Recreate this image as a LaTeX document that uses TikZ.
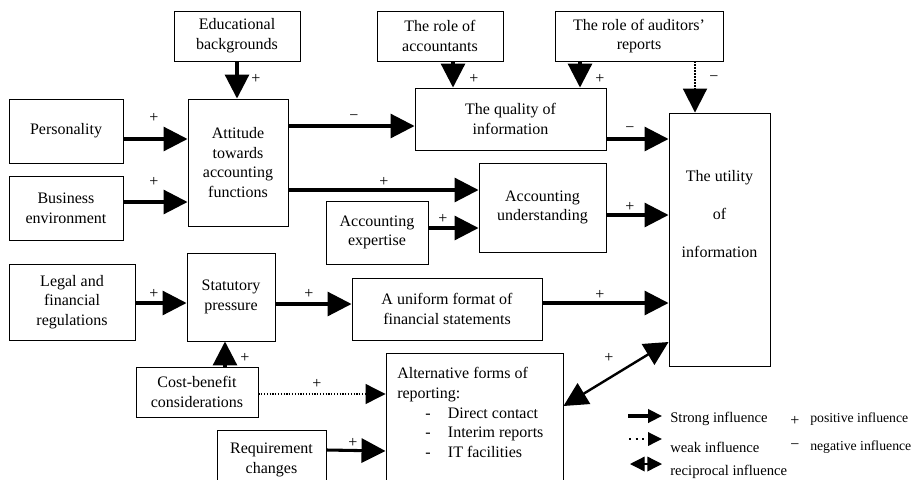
\documentclass[tikz,border=0pt]{standalone}
\usepackage{fontspec}
\setmainfont{Liberation Serif}
\usetikzlibrary{arrows.meta}
\newcommand{\mainsize}{\fontsize{12pt}{14.8pt}\selectfont}
\newcommand{\legsize}{\fontsize{11pt}{13pt}\selectfont}
\newcommand{\legsmall}{\fontsize{10.3pt}{12pt}\selectfont}

\begin{document}
\begin{tikzpicture}[x=0.75pt, y=-0.75pt,
    box/.style={draw, line width=0.7pt, inner sep=0pt, align=center, font=\mainsize},
    strong/.style={line width=2.3pt, -{Triangle[length=18pt,width=18pt]}},
    weak/.style={line width=1.5pt, dash pattern=on 1.2pt off 1pt, -{Triangle[length=18pt,width=18pt]}},
    weakthin/.style={line width=0.9pt, dash pattern=on 0.9pt off 1.2pt, -{Triangle[length=15pt,width=15pt]}},
    recip/.style={line width=1.8pt, {Triangle[length=18pt,width=18pt]}-{Triangle[length=18pt,width=18pt]}},
    legstrong/.style={line width=2.3pt, -{Triangle[length=10.5pt,width=10pt]}},
    legweak/.style={line width=1.8pt, dash pattern=on 1.5pt off 3.5pt, -{Triangle[length=10.5pt,width=10pt]}},
    legrecip/.style={line width=1pt, {Triangle[length=11pt,width=11pt]}-{Triangle[length=11pt,width=11pt]}},
    sign/.style={font=\mainsize, inner sep=0pt},
    legend/.style={font=\legsize, anchor=west, inner sep=0pt}]
    \useasboundingbox (0,0) rectangle (917,479);
    % Boxes of the model.
        \node[box, minimum width=94.5pt, minimum height=37.5pt] (edu) at (237,36) {Educational\\backgrounds};
        \node[box, minimum width=94.5pt, minimum height=37.5pt] (acct) at (440,36) {The role of\\accountants};
        \node[box, minimum width=126pt, minimum height=37.5pt] (audit) at (639,36) {The role of auditors'\\reports};
        \node[box, minimum width=85.5pt, minimum height=48pt] (pers) at (66,131) {Personality};
        \node[box, minimum width=85.5pt, minimum height=48pt] (busi) at (66,208) {Business\\environment};
        \node[box, minimum width=75pt, minimum height=95.25pt] (att) at (238,162.5) {Attitude\\towards\\accounting\\functions};
        \node[box, minimum width=143.25pt, minimum height=46.5pt] (qual) at (510.5,119) {The quality of\\information};
        \node[box, minimum width=95.25pt, minimum height=66.75pt] (und) at (542.5,207.5) {Accounting\\understanding};
        \node[box, minimum width=76.5pt, minimum height=47.25pt] (expt) at (377,232.5) {Accounting\\expertise};
        \node[box, minimum width=75.75pt, minimum height=189.75pt] (util) at (719.5,239.5) {};
        \node[sign, align=center] (utiltext) at (719.5,214) {The utility\\[14pt]of\\[14pt]information};
        \node[box, minimum width=94.5pt, minimum height=57pt] (legal) at (72,302) {Legal and\\financial\\regulations};
        \node[box, minimum width=66pt, minimum height=66pt] (stat) at (231,297) {Statutory\\pressure};
        \node[box, minimum width=142.5pt, minimum height=46.5pt] (unif) at (447,309) {A uniform format of\\financial statements};
        \node[box, minimum width=91.5pt, minimum height=37.5pt] (cost) at (197,392) {Cost-benefit\\considerations};
        \node[box, minimum width=81.75pt, minimum height=45pt] (req) at (271.5,460) {Requirement\\changes};
        \node[box, minimum width=132.75pt, minimum height=102.75pt] (alt) at (474.5,421.5) {};
        \node[sign, align=left, anchor=north west] (alttext) at (397,367) {Alternative forms of\\reporting:\\
            \hspace*{21pt}\makebox[17pt][l]{-}Direct contact\\
            \hspace*{21pt}\makebox[17pt][l]{-}Interim reports\\
            \hspace*{21pt}\makebox[17pt][l]{-}IT facilities};
    % Influences between the boxes.
        \draw[strong] (edu.south) -- (edu.south |- att.north);
        \draw[strong] (pers.east |- 0,139) -- (att.west |- 0,139);
        \draw[strong] (busi.east |- 0,202) -- (att.west |- 0,202);
        \draw[strong] (att.east |- 0,126) -- (qual.west |- 0,126);
        \draw[strong] (att.east |- 0,190) -- (und.west |- 0,190);
        \draw[strong] (expt.east |- 0,228) -- (und.west |- 0,228);
        \draw[strong] (453,0 |- acct.south) -- (453,0 |- qual.north);
        \draw[strong] (580,0 |- audit.south) -- (580,0 |- qual.north);
        \draw[weak] (695,0 |- audit.south) -- (695,0 |- util.north);
        \draw[strong] (qual.east |- 0,139) -- (util.west |- 0,139);
        \draw[strong] (und.east |- 0,215) -- (util.west |- 0,215);
        \draw[strong] (legal.east |- 0,303) -- (stat.west |- 0,303);
        \draw[strong] (stat.east |- 0,304) -- (unif.west |- 0,304);
        \draw[strong] (unif.east |- 0,303) -- (util.west |- 0,303);
        \draw[strong] (225,0 |- cost.north) -- (225,0 |- stat.south);
        \draw[weakthin] (cost.east |- 0,394) -- (alt.west |- 0,394);
        \draw[strong] (req.east |- 0,450) -- (alt.west |- 0,451);
        \draw[recip] (alt.east |- 0,406) -- (util.west |- 0,342);
    % Below nodes are the signs.
        \node[sign] (s1) at (256,79) {+};
        \node[sign] (s2) at (154,118) {+};
        \node[sign] (s3) at (154,182) {+};
        \node[sign] (s4) at (354,118) {−};
        \node[sign] (s5) at (384,182) {+};
        \node[sign] (s6) at (443,219) {+};
        \node[sign] (s7) at (474,79) {+};
        \node[sign] (s8) at (600,79) {+};
        \node[sign] (s9) at (714,79) {−};
        \node[sign] (s10) at (630,130) {−};
        \node[sign] (s11) at (630,207) {+};
        \node[sign] (s12) at (154,294) {+};
        \node[sign] (s13) at (309,294) {+};
        \node[sign] (s14) at (600,295) {+};
        \node[sign] (s15) at (245,358) {+};
        \node[sign] (s16) at (317,384) {+};
        \node[sign] (s17) at (353,443) {+};
        \node[sign] (s18) at (609,358) {+};
    % Legend.
        \coordinate (ls1) at (628,416);
        \coordinate (ls2) at (662,416);
        \coordinate (lw1) at (629,439);
        \coordinate (lw2) at (662,439);
        \coordinate (lr1) at (630,464);
        \coordinate (lr2) at (662,464);
        \draw[legstrong] (ls1) -- (ls2);
        \draw[legweak] (lw1) -- (lw2);
        \draw[legrecip] (lr1) -- (lr2);
        \node[legend] (lstrong) at (670,419) {Strong influence};
        \node[legend] (lweak) at (670,447) {weak influence};
        \node[legend] (lrecip) at (670,472) {reciprocal influence};
        \node[sign] (lplus) at (795,421) {+};
        \node[sign] (lminus) at (795,447) {−};
        \node[legend, font=\legsmall] (lpos) at (810,419) {positive influence};
        \node[legend, font=\legsmall] (lneg) at (810,447) {negative influence};
\end{tikzpicture}
\end{document}
